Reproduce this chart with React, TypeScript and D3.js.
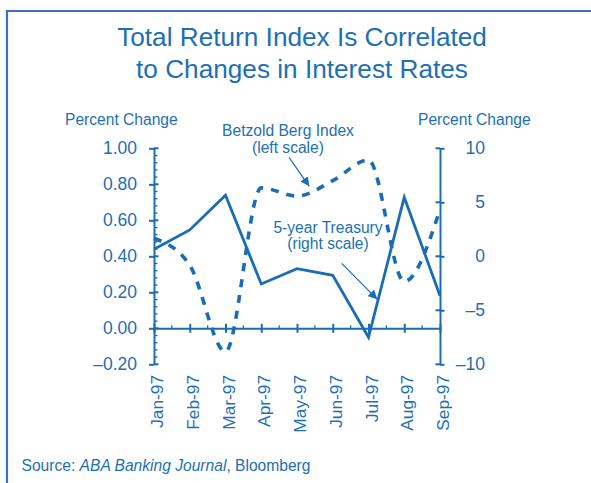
import * as d3 from "d3";
import { useRef, useEffect } from "react";

const months = ["Jan-97", "Feb-97", "Mar-97", "Apr-97", "May-97", "Jun-97", "Jul-97", "Aug-97", "Sep-97"];
// Betzold Berg Index, left scale
const betzold = [0.5, 0.35, -0.13, 0.78, 0.735, 0.82, 0.935, 0.26, 0.66];
// 5-year Treasury, right scale
const treasury = [0.65, 2.44, 5.65, -2.56, -1.15, -1.76, -7.5, 5.46, -3.65];
const leftTicks = [-0.2, 0, 0.2, 0.4, 0.6, 0.8, 1.0];
const rightTicks = [-10, -5, 0, 5, 10];

const BLUE = "#1a6cb4";
const TEXT = "#1d6fb6";
const FONT = "'Liberation Sans', Arial, Helvetica, sans-serif";

export default function App() {
  const svgRef = useRef(null);

  useEffect(() => {
    const width = 591;
    const height = 483;
    const svg = d3.select(svgRef.current).attr("width", width).attr("height", height);
    svg.selectAll("*").remove();

    const x0 = 154;
    const x1 = 440;
    const yTop = 148.3;
    const yBot = 364.3;

    const x = d3.scalePoint<string>().domain(months).range([x0, x1]);
    const yL = d3.scaleLinear().domain([-0.2, 1.0]).range([yBot, yTop]);
    const yR = d3.scaleLinear().domain([-10, 10]).range([yBot, yTop]);

    const fmtL = (d: number) => d3.format(".2f")(d).replace("-", "\u2013").replace("\u2212", "\u2013");
    const fmtR = (d: number) => String(d).replace("-", "\u2013");

    // frame
    svg.append("path")
      .attr("d", `M7,${height} L7,11 L${width},11`)
      .attr("fill", "none")
      .attr("stroke", "#3f6fc2")
      .attr("stroke-width", 2.2);

    // title
    const title = svg.append("text")
      .attr("text-anchor", "middle")
      .attr("font-family", FONT)
      .attr("font-size", 26.2)
      .attr("fill", TEXT);
    title.append("tspan").attr("x", 302).attr("y", 46).text("Total Return Index Is Correlated");
    title.append("tspan").attr("x", 302).attr("y", 77.7).text("to Changes in Interest Rates");

    // axis titles
    svg.append("text").attr("x", 65).attr("y", 125).attr("font-family", FONT).attr("font-size", 15.6)
      .attr("fill", TEXT).text("Percent Change");
    svg.append("text").attr("x", 418).attr("y", 125).attr("font-family", FONT).attr("font-size", 15.6)
      .attr("fill", TEXT).text("Percent Change");

    // left axis
    const gl = svg.append("g").attr("transform", `translate(${x0},0)`)
      .call(d3.axisLeft(yL).tickValues(leftTicks).tickSize(5).tickSizeOuter(0).tickPadding(12).tickFormat(fmtL as any));
    gl.select(".domain").attr("stroke", BLUE).attr("stroke-width", 2);
    gl.selectAll(".tick line").attr("stroke", BLUE).attr("stroke-width", 2);
    gl.selectAll(".tick text").attr("fill", TEXT).attr("font-family", FONT).attr("font-size", 17.5);
    gl.selectAll(".inner").data(leftTicks).enter().append("line")
      .attr("x1", 0).attr("x2", 4.5).attr("y1", (d) => yL(d)).attr("y2", (d) => yL(d))
      .attr("stroke", BLUE).attr("stroke-width", 2);
    const minorL = d3.range(-0.2, 1.0001, 0.04).filter((v) => Math.abs(v * 5 - Math.round(v * 5)) > 0.01);
    gl.selectAll(".minor").data(minorL).enter().append("line")
      .attr("x1", 0).attr("x2", 3.5).attr("y1", (d) => yL(d)).attr("y2", (d) => yL(d))
      .attr("stroke", BLUE).attr("stroke-width", 1.3);

    // right axis
    const gr = svg.append("g").attr("transform", `translate(${x1},0)`)
      .call(d3.axisRight(yR).tickValues(rightTicks).tickSize(4.5).tickSizeOuter(0).tickPadding(40).tickFormat(fmtR as any));
    gr.select(".domain").attr("stroke", BLUE).attr("stroke-width", 2);
    gr.selectAll(".tick line").attr("stroke", BLUE).attr("stroke-width", 2);
    gr.selectAll(".tick text").attr("fill", TEXT).attr("font-family", FONT).attr("font-size", 17.5)
      .attr("text-anchor", "end").attr("x", 45);
    gr.selectAll(".inner").data(rightTicks).enter().append("line")
      .attr("x1", 0).attr("x2", -4.5).attr("y1", (d) => yR(d)).attr("y2", (d) => yR(d))
      .attr("stroke", BLUE).attr("stroke-width", 2);

    // x axis at zero
    const y0 = yL(0);
    const gx = svg.append("g").attr("transform", `translate(0,${y0})`)
      .call(d3.axisBottom(x).tickSize(4.5).tickSizeOuter(0).tickFormat(() => ""));
    gx.select(".domain").attr("stroke", BLUE).attr("stroke-width", 2);
    gx.selectAll(".tick line").attr("stroke", BLUE).attr("stroke-width", 2).attr("y1", -4.5);
    const step = x.step();
    gx.selectAll(".minor").data(months.slice(0, -1)).enter().append("line")
      .attr("x1", (d) => (x(d) as number) + step / 2).attr("x2", (d) => (x(d) as number) + step / 2)
      .attr("y1", 0).attr("y2", -3).attr("stroke", BLUE).attr("stroke-width", 1.3);

    // month labels
    svg.append("g").selectAll("text").data(months).enter().append("text")
      .attr("transform", (d) => `translate(${(x(d) as number) + 9},375) rotate(-90)`)
      .attr("text-anchor", "end")
      .attr("font-family", FONT)
      .attr("font-size", 17.3)
      .attr("fill", TEXT)
      .text((d) => d);

    // series
    const lineL = d3.line<number>().x((_, i) => x(months[i]) as number).y((d) => yL(d)).curve(d3.curveMonotoneX);
    const lineR = d3.line<number>().x((_, i) => x(months[i]) as number).y((d) => yR(d));

    svg.append("path").attr("d", lineL(betzold) as string)
      .attr("fill", "none").attr("stroke", BLUE).attr("stroke-width", 3.6)
      .attr("stroke-dasharray", "8 8");
    svg.append("path").attr("d", lineR(treasury) as string)
      .attr("fill", "none").attr("stroke", BLUE).attr("stroke-width", 2.8)
      .attr("stroke-linejoin", "miter");

    // annotations
    const defs = svg.append("defs");
    defs.append("marker").attr("id", "arr").attr("viewBox", "0 0 10 10").attr("refX", 10).attr("refY", 5)
      .attr("markerWidth", 9).attr("markerHeight", 9).attr("markerUnits", "userSpaceOnUse").attr("orient", "auto")
      .append("path").attr("d", "M0,0 L10,5 L0,10 Z").attr("fill", BLUE);

    const ann = (lines: string[], cx: number, y: number) => {
      const t = svg.append("text").attr("text-anchor", "middle").attr("font-family", FONT)
        .attr("font-size", 15.6).attr("fill", TEXT);
      lines.forEach((l, i) => t.append("tspan").attr("x", cx).attr("y", y + i * 16.5).text(l));
    };
    ann(["Betzold Berg Index", "(left scale)"], 288, 136);
    ann(["5-year Treasury", "(right scale)"], 328, 232.5);

    svg.append("line").attr("x1", 289).attr("y1", 157.3).attr("x2", 309.3).attr("y2", 186.3)
      .attr("stroke", BLUE).attr("stroke-width", 1.2).attr("marker-end", "url(#arr)");
    svg.append("line").attr("x1", 341.7).attr("y1", 263.3).attr("x2", 377.3).attr("y2", 299.3)
      .attr("stroke", BLUE).attr("stroke-width", 1.2).attr("marker-end", "url(#arr)");

    // source
    const src = svg.append("text").attr("x", 21.5).attr("y", 471).attr("font-family", FONT)
      .attr("font-size", 15.6).attr("fill", TEXT);
    src.append("tspan").text("Source: ");
    src.append("tspan").attr("font-style", "italic").text("ABA Banking Journal");
    src.append("tspan").text(", Bloomberg");
  }, []);

  return (
    <svg ref={svgRef} style={{ position: "absolute", left: 0, top: 0, background: "#fff" }} />
  );
}
